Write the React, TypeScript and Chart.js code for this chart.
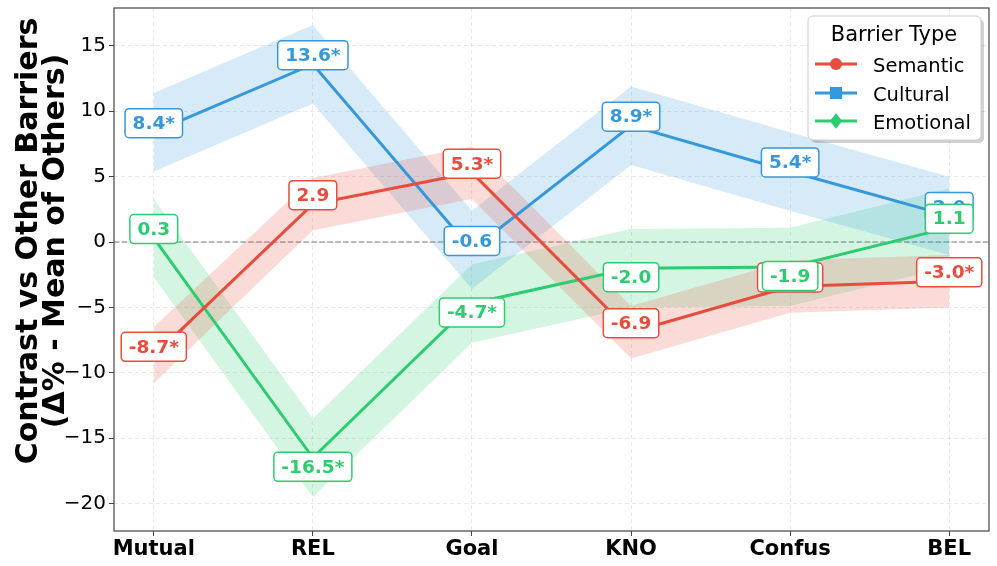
import React, { useEffect, useRef } from "react";
import { Chart, registerables } from "chart.js";
Chart.register(...registerables);

const categories = ["Mutual", "REL", "Goal", "KNO", "Confus", "BEL"];
const seriesNames = ["Semantic", "Cultural", "Emotional"];

const semanticValues = [-8.7, 2.9, 5.3, -6.9, -3.4, -3.0];
const semanticLow = [-10.8, 0.9, 3.3, -8.9, -5.4, -5.0];
const semanticHigh = [-6.5, 4.9, 7.3, -4.9, -1.4, -1.0];
const semanticSig = [true, false, true, false, true, true];

const culturalValues = [8.4, 13.6, -0.6, 8.9, 5.4, 2.0];
const culturalLow = [5.4, 10.6, -3.6, 5.9, 2.4, -1.0];
const culturalHigh = [11.4, 16.6, 2.4, 11.9, 8.4, 5.0];
const culturalSig = [true, true, false, true, true, false];

const emotionalValues = [0.3, -16.5, -4.7, -2.0, -1.9, 1.1];
const emotionalLow = [-2.7, -19.5, -7.7, -5.0, -4.9, -1.9];
const emotionalHigh = [3.3, -13.5, -1.7, 1.0, 1.1, 4.1];
const emotionalSig = [false, true, true, false, false, false];

const yTicks = [-20, -15, -10, -5, 0, 5, 10, 15];

// label placement (true = below the point)
const semanticLabelBelow = [false, false, false, false, false, false];
const culturalLabelBelow = [false, false, false, false, false, false];
const emotionalLabelBelow = [false, true, true, true, true, false];

const colors = ["#e74c3c", "#3498db", "#2ecc71"];
const bandColors = ["rgba(231,76,60,0.2)", "rgba(52,152,219,0.2)", "rgba(46,204,113,0.2)"];
const pointStyles = ["circle", "rect", "rectRot"];

const series = [
  { values: semanticValues, low: semanticLow, high: semanticHigh, sig: semanticSig, below: semanticLabelBelow },
  { values: culturalValues, low: culturalLow, high: culturalHigh, sig: culturalSig, below: culturalLabelBelow },
  { values: emotionalValues, low: emotionalLow, high: emotionalHigh, sig: emotionalSig, below: emotionalLabelBelow },
];

const FONT = "'DejaVu Sans', sans-serif";

function toPts(arr: number[]) {
  return arr.map((v, i) => ({ x: i, y: v }));
}

function roundRect(ctx: CanvasRenderingContext2D, x: number, y: number, w: number, h: number, r: number) {
  ctx.beginPath();
  ctx.moveTo(x + r, y);
  ctx.lineTo(x + w - r, y);
  ctx.arcTo(x + w, y, x + w, y + r, r);
  ctx.lineTo(x + w, y + h - r);
  ctx.arcTo(x + w, y + h, x + w - r, y + h, r);
  ctx.lineTo(x + r, y + h);
  ctx.arcTo(x, y + h, x, y + h - r, r);
  ctx.lineTo(x, y + r);
  ctx.arcTo(x, y, x + r, y, r);
  ctx.closePath();
}

function drawMarker(ctx: CanvasRenderingContext2D, style: string, x: number, y: number, r: number, color: string) {
  ctx.fillStyle = color;
  ctx.beginPath();
  if (style === "circle") {
    ctx.arc(x, y, r, 0, Math.PI * 2);
  } else if (style === "rect") {
    ctx.rect(x - r, y - r, 2 * r, 2 * r);
  } else {
    const d = r * 1.3;
    ctx.moveTo(x, y - d);
    ctx.lineTo(x + d * 0.8, y);
    ctx.lineTo(x, y + d);
    ctx.lineTo(x - d * 0.8, y);
    ctx.closePath();
  }
  ctx.fill();
}

const overlayPlugin = {
  id: "overlay",
  beforeDatasetsDraw(chart: any) {
    const { ctx, chartArea, scales } = chart;
    const y0 = scales.y.getPixelForValue(0);
    ctx.save();
    ctx.strokeStyle = "rgba(128,128,128,0.7)";
    ctx.lineWidth = 1.5;
    ctx.setLineDash([5.5, 2.4]);
    ctx.beginPath();
    ctx.moveTo(chartArea.left, y0);
    ctx.lineTo(chartArea.right, y0);
    ctx.stroke();
    ctx.restore();
  },
  afterDatasetsDraw(chart: any) {
    const { ctx, chartArea, scales } = chart;
    ctx.save();
    ctx.font = `bold 18.5px ${FONT}`;
    ctx.textAlign = "center";
    ctx.textBaseline = "middle";
    series.forEach((s, k) => {
      s.values.forEach((v, i) => {
        const px = scales.x.getPixelForValue(i);
        const py = scales.y.getPixelForValue(v);
        const text = v.toFixed(1) + (s.sig[i] ? "*" : "");
        const cy = py + (s.below[i] ? 9 : -9);
        const tw = ctx.measureText(text).width;
        const w = tw + 15;
        const h = 29;
        roundRect(ctx, px - w / 2, cy - h / 2, w, h, 4);
        ctx.fillStyle = "#ffffff";
        ctx.fill();
        ctx.strokeStyle = colors[k];
        ctx.lineWidth = 1.5;
        ctx.stroke();
        ctx.fillStyle = colors[k];
        ctx.fillText(text, px, cy + 1);
      });
    });
    // frame
    ctx.strokeStyle = "#444";
    ctx.lineWidth = 1.2;
    ctx.strokeRect(chartArea.left, chartArea.top, chartArea.right - chartArea.left, chartArea.bottom - chartArea.top);
    ctx.restore();
  },
  afterDraw(chart: any) {
    const { ctx } = chart;
    ctx.save();
    // legend
    const lx = 808, ly = 16, lw = 173, lh = 124;
    ctx.fillStyle = "rgba(0,0,0,0.18)";
    roundRect(ctx, lx + 3, ly + 3, lw, lh, 5);
    ctx.fill();
    roundRect(ctx, lx, ly, lw, lh, 5);
    ctx.fillStyle = "#ffffff";
    ctx.fill();
    ctx.strokeStyle = "#cccccc";
    ctx.lineWidth = 1;
    ctx.stroke();
    ctx.fillStyle = "#000";
    ctx.font = `21px ${FONT}`;
    ctx.textAlign = "center";
    ctx.textBaseline = "alphabetic";
    ctx.fillText("Barrier Type", 894, 41);
    const rows = [64, 93, 121];
    seriesNames.forEach((name, k) => {
      const y = rows[k];
      ctx.strokeStyle = colors[k];
      ctx.lineWidth = 3;
      ctx.beginPath();
      ctx.moveTo(815, y);
      ctx.lineTo(857, y);
      ctx.stroke();
      drawMarker(ctx, pointStyles[k], 836, y, 6, colors[k]);
      ctx.fillStyle = "#000";
      ctx.font = `19.5px ${FONT}`;
      ctx.textAlign = "left";
      ctx.textBaseline = "alphabetic";
      ctx.fillText(name, 873, y + 8);
    });
    // y title
    ctx.translate(0, 241);
    ctx.rotate(-Math.PI / 2);
    ctx.font = `bold 30px ${FONT}`;
    ctx.textAlign = "center";
    ctx.textBaseline = "alphabetic";
    ctx.fillStyle = "#000";
    ctx.fillText("Contrast vs Other Barriers", 0, 37);
    ctx.fillText("(Δ% - Mean of Others)", 0, 64);
    ctx.restore();
  },
};

export default function App() {
  const ref = useRef<HTMLCanvasElement | null>(null);
  useEffect(() => {
    const datasets: any[] = [];
    series.forEach((s, k) => {
      datasets.push({
        label: seriesNames[k] + " low",
        data: toPts(s.low),
        borderWidth: 0,
        pointRadius: 0,
        fill: false,
        order: 10,
      });
      datasets.push({
        label: seriesNames[k] + " high",
        data: toPts(s.high),
        borderWidth: 0,
        pointRadius: 0,
        backgroundColor: bandColors[k],
        fill: "-1",
        order: 10,
      });
    });
    series.forEach((s, k) => {
      datasets.push({
        label: seriesNames[k],
        data: toPts(s.values),
        borderColor: colors[k],
        backgroundColor: colors[k],
        borderWidth: 3,
        pointStyle: pointStyles[k],
        pointRadius: 5,
        pointBorderWidth: 0,
        fill: false,
        order: 0,
      });
    });
    const chart = new Chart(ref.current as HTMLCanvasElement, {
      type: "line",
      data: { datasets },
      options: {
        animation: false,
        responsive: false,
        devicePixelRatio: 1,
        layout: { padding: { top: 8, right: 8, left: 0, bottom: 0 } },
        plugins: { legend: { display: false }, tooltip: { enabled: false } },
        elements: { line: { tension: 0 } },
        scales: {
          x: {
            type: "linear",
            min: -0.25,
            max: 5.25,
            afterBuildTicks: (scale: any) => {
              scale.ticks = categories.map((_, i) => ({ value: i }));
            },
            afterFit: (scale: any) => {
              scale.height = 35;
              scale.paddingLeft = 0;
              scale.paddingRight = 0;
            },
            ticks: {
              callback: (v: any) => categories[Math.round(Number(v))] ?? "",
              font: { family: FONT, size: 21, weight: "bold" },
              color: "#000",
              padding: 1,
              maxRotation: 0,
              autoSkip: false,
            },
            grid: {
              color: "rgba(0,0,0,0.09)",
              tickColor: "#444",
              tickLength: 5,
              tickBorderDash: [],
            },
            border: { display: false, dash: [4, 3] },
          },
          y: {
            type: "linear",
            min: -22.1,
            max: 17.9,
            afterBuildTicks: (scale: any) => {
              scale.ticks = yTicks.map((v) => ({ value: v }));
            },
            afterFit: (scale: any) => {
              scale.width = 114;
              scale.paddingTop = 0;
              scale.paddingBottom = 0;
            },
            ticks: {
              callback: (v: any) => (Number(v) < 0 ? "\u2212" + Math.abs(Number(v)) : String(v)),
              font: { family: FONT, size: 20 },
              color: "#000",
              padding: 3,
            },
            grid: {
              color: "rgba(0,0,0,0.09)",
              tickColor: "#444",
              tickLength: 5,
              tickBorderDash: [],
            },
            border: { display: false, dash: [4, 3] },
          },
        },
      },
      plugins: [overlayPlugin],
    });
    return () => chart.destroy();
  }, []);
  return (
    <div style={{ position: "absolute", left: 0, top: 0, width: 997, height: 566, background: "#fff" }}>
      <canvas ref={ref} width={997} height={566} style={{ display: "block" }} />
    </div>
  );
}
